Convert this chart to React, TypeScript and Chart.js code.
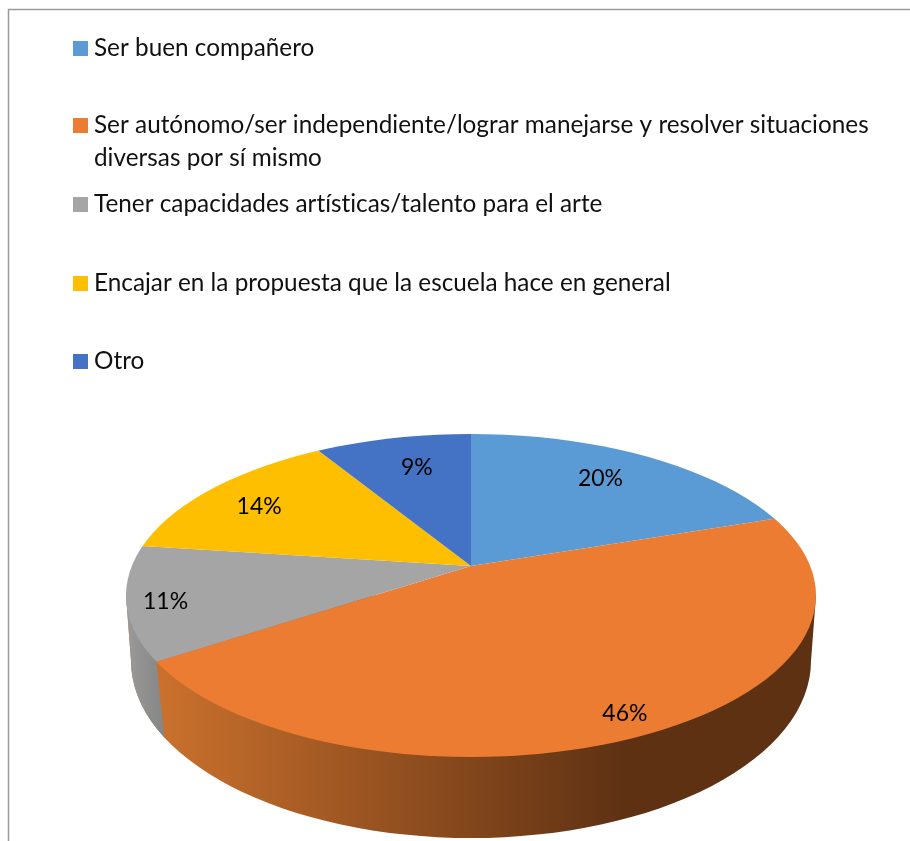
import React, { useEffect, useRef } from "react";
import { Chart, registerables } from "chart.js";

Chart.register(...registerables);

const categories = [
  "Ser buen compañero",
  "Ser autónomo/ser independiente/lograr manejarse y resolver situaciones diversas por sí mismo",
  "Tener capacidades artísticas/talento para el arte",
  "Encajar en la propuesta que la escuela hace en general",
  "Otro",
];
const legendLines = [
  ["Ser buen compañero"],
  ["Ser autónomo/ser independiente/lograr manejarse y resolver situaciones", "diversas por sí mismo"],
  ["Tener capacidades artísticas/talento para el arte"],
  ["Encajar en la propuesta que la escuela hace en general"],
  ["Otro"],
];
const percentages = [20, 46, 11, 14, 9];
const colors = ["#5B9BD5", "#EB7C31", "#A5A5A5", "#FDBF00", "#4472C4"];

const legendBaselines = [56, 133, 212, 291, 369];
const labelRadii = [222, 345, 315, 245, 205];
const labelNudgeX = [-1, 7, 2, -5, 3];
const labelNudgeY = [-1, -2, 3, 4, -4];
const LEGEND_FONT = '24.3px Lato, "Open Sans", sans-serif';
const LABEL_FONT = '23px Lato, "Open Sans", sans-serif';
const LINE_H = 33;

const APEX = { x: 471, y: 566 };
const TILT = 0.48;
const TOP = { x: 471, y: 595.5, rx: 345, ry: 161.5 };
const BOTTOM = { x: 471, y: 661, rx: 340, ry: 177 };
const SIDE_DROP = { x: 8, y: 76 };

function rimPoint(a: number) {
  const dx = Math.cos(a);
  const dy = TILT * Math.sin(a);
  const off = APEX.y - TOP.y;
  const A = (dx * dx) / (TOP.rx * TOP.rx) + (dy * dy) / (TOP.ry * TOP.ry);
  const B = (2 * off * dy) / (TOP.ry * TOP.ry);
  const C = (off * off) / (TOP.ry * TOP.ry) - 1;
  const t = (-B + Math.sqrt(B * B - 4 * A * C)) / (2 * A);
  return { x: APEX.x + t * dx, y: APEX.y + t * dy };
}

const pie3d = {
  id: "pie3d",
  beforeDraw(chart: any) {
    const { ctx } = chart;
    ctx.save();
    ctx.fillStyle = "#ffffff";
    ctx.fillRect(0, 0, chart.width, chart.height);
    ctx.strokeStyle = "#9a9a9a";
    ctx.lineWidth = 1.5;
    ctx.beginPath();
    ctx.moveTo(8.5, chart.height);
    ctx.lineTo(8.5, 9.5);
    ctx.lineTo(chart.width, 9.5);
    ctx.stroke();
    ctx.restore();
  },
  beforeDatasetsDraw(chart: any) {
    const { ctx } = chart;
    const arcs = chart.getDatasetMeta(0).data;
    const seam = rimPoint(arcs[1].endAngle);

    const sidePath = () => {
      ctx.beginPath();
      ctx.moveTo(TOP.x + TOP.rx, TOP.y);
      ctx.lineTo(BOTTOM.x + BOTTOM.rx, BOTTOM.y);
      ctx.ellipse(BOTTOM.x, BOTTOM.y, BOTTOM.rx, BOTTOM.ry, 0, 0, Math.PI);
      ctx.lineTo(TOP.x - TOP.rx, TOP.y);
      ctx.closePath();
    };

    // orange wall
    ctx.save();
    const grad = ctx.createLinearGradient(seam.x, 0, 625, 0);
    grad.addColorStop(0, "#CB712D");
    grad.addColorStop(1, "#5E3113");
    sidePath();
    ctx.fillStyle = grad;
    ctx.fill();
    ctx.restore();

    // grey wall, left of the seam
    ctx.save();
    ctx.beginPath();
    ctx.moveTo(seam.x - 10, seam.y - 100);
    ctx.lineTo(seam.x, seam.y);
    ctx.lineTo(seam.x + SIDE_DROP.x, seam.y + SIDE_DROP.y);
    ctx.lineTo(seam.x + SIDE_DROP.x, chart.height);
    ctx.lineTo(0, chart.height);
    ctx.lineTo(0, seam.y - 100);
    ctx.closePath();
    ctx.clip();
    const g2 = ctx.createLinearGradient(126, 0, seam.x + SIDE_DROP.x, 0);
    g2.addColorStop(0, "#9A9A9A");
    g2.addColorStop(1, "#858585");
    sidePath();
    ctx.fillStyle = g2;
    ctx.fill();
    ctx.restore();

    // top face: clip to the rim, tilt the library's arcs about the apex
    ctx.save();
    ctx.beginPath();
    ctx.ellipse(TOP.x, TOP.y, TOP.rx, TOP.ry, 0, 0, Math.PI * 2);
    ctx.clip();
    const cx = arcs[0].x;
    const cy = arcs[0].y;
    ctx.translate(APEX.x, APEX.y);
    ctx.scale(1, TILT);
    ctx.translate(-cx, -cy);
  },
  afterDatasetsDraw(chart: any) {
    const { ctx } = chart;
    ctx.restore();
    const arcs = chart.getDatasetMeta(0).data;
    const values = chart.data.datasets[0].data;

    ctx.save();
    // a non-zero spacing turns off Lato's "ti" ligature
    ctx.letterSpacing = "0.01px";
    ctx.font = LABEL_FONT;
    ctx.fillStyle = "#000000";
    ctx.textAlign = "center";
    ctx.textBaseline = "middle";
    arcs.forEach((arc: any, i: number) => {
      const mid = (arc.startAngle + arc.endAngle) / 2;
      const x = APEX.x + labelRadii[i] * Math.cos(mid) + labelNudgeX[i];
      const y = APEX.y + labelRadii[i] * TILT * Math.sin(mid) + labelNudgeY[i];
      ctx.fillText(values[i] + "%", x, y);
    });

    // legend
    ctx.font = LEGEND_FONT;
    ctx.textAlign = "left";
    ctx.textBaseline = "alphabetic";
    legendLines.forEach((lines, i) => {
      const base = legendBaselines[i];
      ctx.fillStyle = colors[i];
      ctx.fillRect(73, base - 15, 15, 15);
      ctx.fillStyle = "#111111";
      lines.forEach((line, j) => ctx.fillText(line, 94, base + j * LINE_H));
    });
    ctx.restore();
  },
};

export default function App() {
  const ref = useRef<HTMLCanvasElement>(null);
  useEffect(() => {
    const chart = new Chart(ref.current as HTMLCanvasElement, {
      type: "pie",
      data: {
        labels: categories,
        datasets: [
          {
            data: percentages,
            backgroundColor: colors,
            borderWidth: 0,
            clip: false,
          } as any,
        ],
      },
      options: {
        responsive: false,
        animation: false,
        devicePixelRatio: 1,
        rotation: 0,
        layout: { padding: 0 },
        plugins: { legend: { display: false }, tooltip: { enabled: false }, title: { display: false } },
      },
      plugins: [pie3d],
    });
    return () => chart.destroy();
  }, []);
  return (
    <div style={{ position: "absolute", left: 0, top: 0, width: 910, height: 841, overflow: "hidden" }}>
      <canvas ref={ref} width={910} height={841} style={{ display: "block" }} />
    </div>
  );
}
